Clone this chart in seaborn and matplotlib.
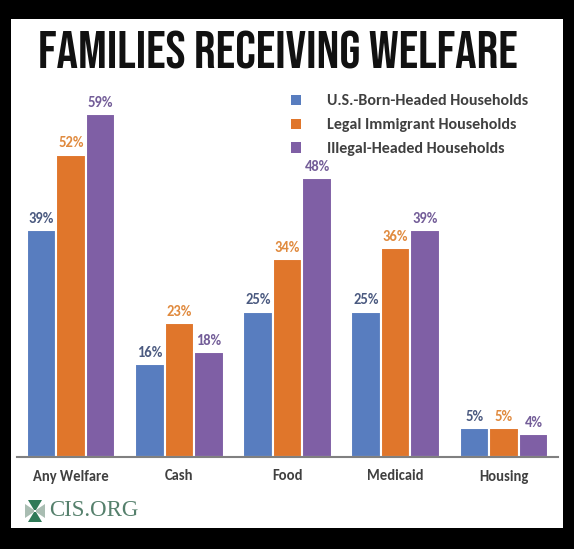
import numpy as np
import pandas as pd
import matplotlib
matplotlib.use("Agg")
import matplotlib.pyplot as plt
import matplotlib.patches as mpatches
import seaborn as sns

# data
categories = ["Any Welfare", "Cash", "Food", "Medicaid", "Housing"]
groups = ["U.S.-Born-Headed Households", "Legal Immigrant Households", "Illegal-Headed Households"]
us_born = [39, 16, 25, 25, 5]
legal = [52, 23, 34, 36, 5]
illegal = [59, 18, 48, 39, 4]

bar_colors = ["#587DBF", "#E0762B", "#7F5FA5"]
label_colors = ["#4B5A80", "#E08A3E", "#735D98"]

rows = []
for g, vals in zip(groups, [us_born, legal, illegal]):
    for c, v in zip(categories, vals):
        rows.append({"cat": c, "grp": g, "val": v})
df = pd.DataFrame(rows)

sns.set_style("white")
plt.rcParams["font.family"] = ["Carlito", "DejaVu Sans"]

W, H = 574, 549
fig = plt.figure(figsize=(W / 100, H / 100), dpi=100, facecolor="black")

# white panel
fig.add_artist(mpatches.Rectangle((11 / W, 1 - 528 / H), 552 / W, 509 / H,
                                  transform=fig.transFigure, facecolor="white",
                                  edgecolor="none", zorder=0))

ax = fig.add_axes([17 / W, 1 - 457 / H, 541 / W, 357 / H])
ax.set_facecolor("none")
sns.barplot(data=df, x="cat", y="val", hue="grp", palette=bar_colors,
            width=0.82, saturation=1, edgecolor="white", linewidth=1.5,
            legend=False, ax=ax)
ax.set_xlim(-0.5, 4.5)
ax.set_ylim(0, 61.4)

for cont, col in zip(ax.containers, label_colors):
    ax.bar_label(cont, labels=[f"{int(v)}%" for v in cont.datavalues],
                 padding=3, color=col, fontsize=10.5, fontweight="bold")

for s in ["top", "left", "right"]:
    ax.spines[s].set_visible(False)
ax.spines["bottom"].set_color("#808080")
ax.spines["bottom"].set_linewidth(1.5)
ax.set_yticks([])
ax.set_xlabel("")
ax.set_ylabel("")
ax.tick_params(axis="x", length=0, pad=9)
for t in ax.get_xticklabels():
    t.set_fontsize(10.5)
    t.set_fontweight("bold")
    t.set_color("#404040")

handles = [mpatches.Patch(facecolor=c, edgecolor="none") for c in bar_colors]
fig.legend(handles, groups, loc="upper left", bbox_to_anchor=(277 / W, 1 - 80 / H),
           frameon=False, handlelength=0.6, handleheight=0.6, handletextpad=1.6,
           labelspacing=0.62, prop={"size": 11.5, "weight": "bold"},
           labelcolor="#404040")

fig.text(278 / W, 1 - 50 / H, "FAMILIES RECEIVING WELFARE",
         family=["Bebas Neue", "DejaVu Sans"], fontsize=38.5,
         ha="center", va="center", color="#111111")

# CIS.ORG logo
cx, cy = 35, 511
dark, light = "#2F7A58", "#A9BDB2"
def petal(pts, col):
    xy = [((cx + px) / W, 1 - (cy + py) / H) for px, py in pts]
    fig.add_artist(mpatches.Polygon(xy, closed=True, transform=fig.transFigure,
                                    facecolor=col, edgecolor="none"))
petal([(-1, -1), (1, -1), (7, -11), (-7, -11)], dark)
petal([(-1, 1), (1, 1), (7, 11), (-7, 11)], dark)
petal([(-1, -1), (-1, 1), (-10, 7), (-10, -7)], light)
petal([(1, -1), (1, 1), (10, 7), (10, -7)], light)
fig.text(49 / W, 1 - 511 / H, "CIS.ORG", family=["Liberation Serif", "DejaVu Serif"],
         fontsize=16.5, color="#55806C", ha="left", va="center")

fig.savefig("out.png", dpi=100, facecolor="black")
